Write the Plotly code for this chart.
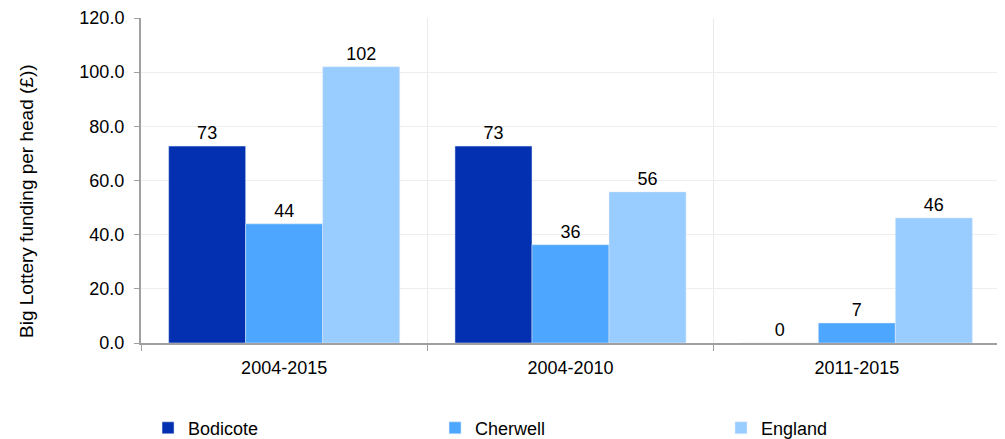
import plotly.graph_objects as go

periods = ["2004-2015", "2004-2010", "2011-2015"]
bodicote = [72.7, 72.7, 0]
cherwell = [44.0, 36.3, 7.4]
england = [102.0, 55.8, 46.2]

series = [
    ("Bodicote", bodicote, "#0330B0", "legend", 0.0082),
    ("Cherwell", cherwell, "#4DA6FF", "legend2", 0.3423),
    ("England", england, "#99CCFF", "legend3", 0.6752),
]

fig = go.Figure()
legends = {}
for name, vals, col, leg, lx in series:
    fig.add_trace(go.Bar(
        x=periods, y=vals, name=name, marker_color=col, legend=leg,
        text=[f"{v:.0f}" for v in vals], textposition="outside",
        textfont=dict(size=18, color="#000000"), cliponaxis=False,
    ))
    # one small legend per series so each entry sits under its own column
    legends[leg] = dict(orientation="h", x=lx, xanchor="left",
                        y=0.043, yref="container", yanchor="middle",
                        font=dict(size=18), bgcolor="rgba(0,0,0,0)")

fig.update_layout(
    width=1005, height=439, showlegend=True,
    barmode="group", bargap=0.193, bargroupgap=0,
    plot_bgcolor="white", paper_bgcolor="white",
    font=dict(family="Liberation Sans, Arial", size=18, color="#000000"),
    margin=dict(l=133, r=13, t=10, b=104),
    **legends,
)
# y title sits a little below the axis middle in the original
fig.add_annotation(
    text="Big Lottery funding per head (£))", textangle=-90, showarrow=False,
    xref="paper", yref="paper", x=-0.1327, y=0.437, xanchor="center", yanchor="middle",
    font=dict(size=19),
)
fig.update_xaxes(
    type="category", tickson="boundaries", showgrid=True, gridcolor="#EBEBEB",
    showline=True, linecolor="#A0A0A0", linewidth=2, automargin=False,
    ticks="outside", ticklen=6, tickcolor="#A0A0A0", tickfont=dict(size=18),
    ticklabelstandoff=7,
)
fig.update_yaxes(
    range=[0, 120], dtick=20, tickformat=".1f", showgrid=True, gridcolor="#EEEEEE",
    showline=True, linecolor="#A0A0A0", linewidth=2, automargin=False,
    ticks="outside", ticklen=5, tickcolor="#A0A0A0", tickfont=dict(size=18),
    ticklabelstandoff=6, ticklabeloverflow="allow",
    zeroline=False,
)

fig.write_html("out.html")
